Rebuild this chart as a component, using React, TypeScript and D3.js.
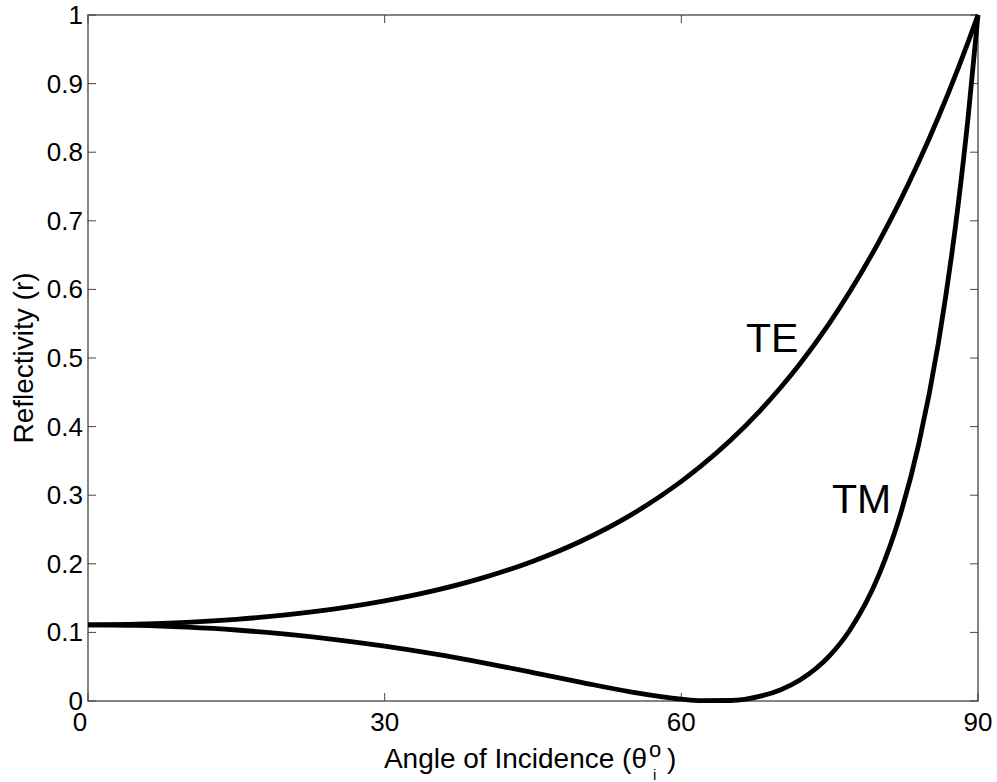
import React from "react";
import * as d3 from "d3";

// Angle of incidence (degrees)
const angles = [0, 5, 10, 15, 20, 25, 30, 35, 40, 45, 50, 55, 60, 62, 65, 68, 70, 72, 75, 77, 80, 82, 84, 86, 88, 89, 90];
// TE (s-polarised) reflectivity
const teValues = [0.1111, 0.1120, 0.1146, 0.1190, 0.1255, 0.1343, 0.1459, 0.1608, 0.1798, 0.2038, 0.2340, 0.2721, 0.3201, 0.3426, 0.3804, 0.4238, 0.4562, 0.4917, 0.5513, 0.5957, 0.6701, 0.7254, 0.7856, 0.8513, 0.9226, 0.9605, 1.0];
// TM (p-polarised) reflectivity
const tmValues = [0.1111, 0.1103, 0.1077, 0.1035, 0.0974, 0.0896, 0.0800, 0.0687, 0.0557, 0.0415, 0.0268, 0.0130, 0.0027, 0.0005, 0.0007, 0.0070, 0.0161, 0.0305, 0.0660, 0.1024, 0.1845, 0.2649, 0.3741, 0.5223, 0.7240, 0.8510, 1.0];

const xTicks = [0, 30, 60, 90];
const yTicks = [0, 0.1, 0.2, 0.3, 0.4, 0.5, 0.6, 0.7, 0.8, 0.9, 1];

const W = 997;
const H = 782;
const left = 88;
const right = 978;
const top = 15;
const bottom = 701;
const FONT = "'Liberation Sans', Arial, Helvetica, sans-serif";

export default function App() {
  const x = d3.scaleLinear().domain([0, 90]).range([left, right]);
  const y = d3.scaleLinear().domain([0, 1]).range([bottom, top]);

  const line = d3
    .line<number>()
    .x((_, i) => x(angles[i]))
    .y((d) => y(d))
    .curve(d3.curveMonotoneX);

  const tickLen = 8;
  const axisColor = "#444";

  return (
    <svg
      width={W}
      height={H}
      style={{ position: "absolute", left: 0, top: 0, background: "#fff" }}
      fontFamily={FONT}
    >
      <rect x={0} y={0} width={W} height={H} fill="#fff" />

      {/* frame */}
      <rect
        x={left}
        y={top}
        width={right - left}
        height={bottom - top}
        fill="none"
        stroke={axisColor}
        strokeWidth={1.3}
      />

      {/* y ticks (left and right, inward) */}
      {yTicks.map((t) => (
        <g key={"y" + t}>
          <line x1={left} x2={left + tickLen} y1={y(t)} y2={y(t)} stroke={axisColor} strokeWidth={1} />
          <line x1={right} x2={right - tickLen} y1={y(t)} y2={y(t)} stroke={axisColor} strokeWidth={1} />
          <text
            x={left - 5}
            y={y(t)}
            textAnchor="end"
            dominantBaseline="central"
            fontSize={26}
            fill="#000"
          >
            {t === 0 || t === 1 ? String(t) : t.toFixed(1)}
          </text>
        </g>
      ))}

      {/* x ticks (bottom and top, inward); the 0 label sits under the y-axis 0 */}
      {xTicks.map((t) => (
        <g key={"x" + t}>
          <line x1={x(t)} x2={x(t)} y1={bottom} y2={bottom - tickLen} stroke={axisColor} strokeWidth={1} />
          <line x1={x(t)} x2={x(t)} y1={top} y2={top + tickLen} stroke={axisColor} strokeWidth={1} />
          <text
            x={t === 0 ? x(t) - 8 : x(t)}
            y={731}
            textAnchor="middle"
            fontSize={26}
            fill="#000"
          >
            {t}
          </text>
        </g>
      ))}

      {/* curves */}
      <path d={line(teValues) ?? ""} fill="none" stroke="#000" strokeWidth={4.8} strokeLinejoin="round" />
      <path d={line(tmValues) ?? ""} fill="none" stroke="#000" strokeWidth={4.8} strokeLinejoin="round" />

      {/* curve labels */}
      <text x={746} y={352} fontSize={41} fill="#000">TE</text>
      <text x={832} y={513} fontSize={41} fill="#000">TM</text>

      {/* x-axis title */}
      <text x={647} y={768} textAnchor="end" fontSize={28} fill="#000">
        Angle of Incidence (θ
      </text>
      <text x={649} y={757} fontSize={22} fill="#000">o</text>
      <text x={653} y={780} fontSize={15} fill="#000">i</text>
      <text x={667} y={768} fontSize={28} fill="#000">)</text>

      {/* y-axis title */}
      <text
        transform={`translate(33, ${(top + bottom) / 2}) rotate(-90)`}
        textAnchor="middle"
        fontSize={28}
        fill="#000"
      >
        Reflectivity (r)
      </text>
    </svg>
  );
}
